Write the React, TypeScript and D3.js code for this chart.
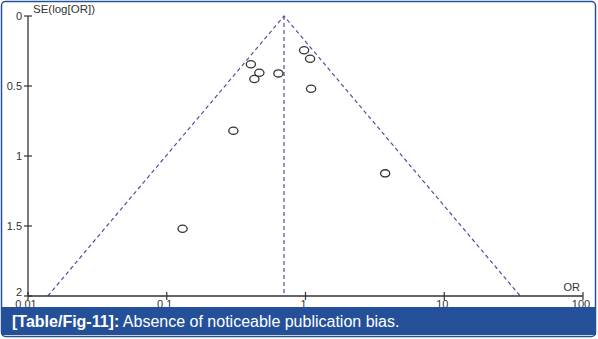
import React from "react";
import * as d3 from "d3";

// Study-level odds ratios and standard errors of log(OR)
const studyOR = [0.404, 0.465, 0.428, 0.638, 0.977, 1.079, 1.097, 0.302, 0.13, 3.75];
const studySE = [0.345, 0.405, 0.45, 0.41, 0.245, 0.305, 0.52, 0.82, 1.52, 1.124];

// Pooled estimate (vertical reference line / funnel apex)
const pooledOR = 0.7;

const xTicks = [0.01, 0.1, 1, 10, 100];
const xTickLabels = ["0.01", "0.1", "1", "10", "100"];
const yTicks = [0, 0.5, 1, 1.5, 2];
const yTickLabels = ["0", "0.5", "1", "1.5", "2"];

const W = 598;
const H = 339;
const margin = { left: 28, right: 15, top: 16, bottom: 43 };

const BLUE = "#24509a";
const DASH = "#4f4f9f";
const INK = "#333";

export default function App() {
  const x = d3
    .scaleLog()
    .domain([0.01, 100])
    .range([margin.left, W - margin.right]);
  const y = d3
    .scaleLinear()
    .domain([0, 2])
    .range([margin.top, H - margin.bottom]);

  const seMax = 2;
  const lp = Math.log(pooledOR);
  const funnel = [
    [Math.exp(lp - 1.96 * seMax), seMax],
    [pooledOR, 0],
    [Math.exp(lp + 1.96 * seMax), seMax],
  ] as [number, number][];
  const funnelPath = d3
    .line<[number, number]>()
    .x((d) => x(d[0]))
    .y((d) => y(d[1]))(funnel);

  const x0 = x(0.01);
  const yBase = y(2);
  const font = "'Liberation Sans', Arial, sans-serif";

  return (
    <svg
      width={W}
      height={H}
      style={{ position: "absolute", left: 0, top: 0, background: "#fff" }}
      fontFamily={font}
    >
      {/* funnel (pseudo 95% limits) and pooled estimate line */}
      <path d={funnelPath ?? ""} fill="none" stroke={DASH} strokeWidth={1.2} strokeDasharray="4,3" />
      <line
        x1={x(pooledOR)}
        x2={x(pooledOR)}
        y1={y(0)}
        y2={yBase}
        stroke={DASH}
        strokeWidth={1.2}
        strokeDasharray="4,3"
      />

      {/* y axis */}
      <line x1={x0} x2={x0} y1={y(0)} y2={yBase} stroke={INK} strokeWidth={1.3} />
      {yTicks.map((t, i) => (
        <g key={"y" + i}>
          <line x1={x0 - 4} x2={x0 + 4} y1={y(t)} y2={y(t)} stroke={INK} strokeWidth={1.2} />
          <text x={x0 - 6} y={y(t) + (i === yTicks.length - 1 ? 0 : 4)} fontSize={11} fill={INK} textAnchor="end">
            {yTickLabels[i]}
          </text>
        </g>
      ))}
      <text x={x0 + 5} y={y(0) - 3} fontSize={11.5} fill={INK}>
        SE(log[OR])
      </text>

      {/* x axis */}
      <line x1={x0} x2={x(100)} y1={yBase} y2={yBase} stroke={INK} strokeWidth={1.3} />
      {xTicks.map((t, i) => (
        <g key={"x" + i}>
          <line x1={x(t)} x2={x(t)} y1={yBase - 4} y2={yBase + 4} stroke={INK} strokeWidth={1.2} />
          <text x={x(t) - 2} y={yBase + 12} fontSize={11} fill={INK} textAnchor="middle">
            {xTickLabels[i]}
          </text>
        </g>
      ))}
      <text x={x(100) - 3} y={yBase - 5} fontSize={11} fill={INK} textAnchor="end">
        OR
      </text>

      {/* studies */}
      {studyOR.map((v, i) => (
        <ellipse
          key={"p" + i}
          cx={x(v)}
          cy={y(studySE[i])}
          rx={4.6}
          ry={3.6}
          fill="none"
          stroke="#333"
          strokeWidth={1.3}
        />
      ))}

      {/* caption bar */}
      <rect x={2} y={307} width={594} height={28} fill={BLUE} />
      <text x={12} y={327} fontSize={16} fill="#fff">
        <tspan fontWeight="bold">[Table/Fig-11]:</tspan>
        <tspan> Absence of noticeable publication bias.</tspan>
      </text>

      {/* outer frame */}
      <rect x={1.5} y={1.5} width={594} height={335} rx={4} fill="none" stroke={BLUE} strokeWidth={1.5} />
    </svg>
  );
}
